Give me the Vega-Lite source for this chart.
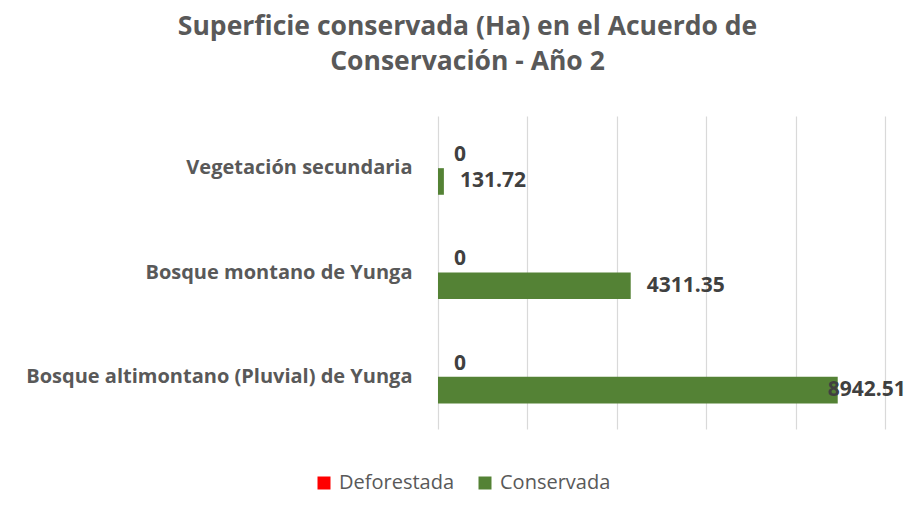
{
  "$schema": "https://vega.github.io/schema/vega-lite/v6.json",
  "autosize": "none",
  "width": 447,
  "height": 313,
  "padding": {"left": 438, "top": 116, "right": 23, "bottom": 85},
  "background": "white",
  "title": {
    "text": ["Superficie conservada (Ha) en el Acuerdo de", "Conservación - Año 2"],
    "font": "Open Sans",
    "fontSize": 26.5,
    "fontWeight": "bold",
    "color": "#595959",
    "lineHeight": 35,
    "anchor": "middle",
    "frame": "group",
    "dx": -194,
    "offset": 41
  },
  "data": {
    "values": [
      {"tipo": "Vegetación secundaria", "serie": "Deforestada", "valor": 0},
      {"tipo": "Vegetación secundaria", "serie": "Conservada", "valor": 131.72},
      {"tipo": "Bosque montano de Yunga", "serie": "Deforestada", "valor": 0},
      {"tipo": "Bosque montano de Yunga", "serie": "Conservada", "valor": 4311.35},
      {"tipo": "Bosque altimontano (Pluvial) de Yunga", "serie": "Deforestada", "valor": 0},
      {"tipo": "Bosque altimontano (Pluvial) de Yunga", "serie": "Conservada", "valor": 8942.51}
    ]
  },
  "encoding": {
    "y": {
      "field": "tipo",
      "type": "nominal",
      "sort": ["Vegetación secundaria", "Bosque montano de Yunga", "Bosque altimontano (Pluvial) de Yunga"],
      "scale": {"paddingInner": 0.49, "paddingOuter": 0.245},
      "axis": {
        "title": null,
        "domain": false,
        "ticks": false,
        "grid": false,
        "labelFont": "Open Sans",
        "labelFontSize": 20,
        "labelFontWeight": "bold",
        "labelColor": "#595959",
        "labelPadding": 26,
        "labelLimit": 500
      }
    },
    "yOffset": {
      "field": "serie",
      "type": "nominal",
      "sort": ["Deforestada", "Conservada"],
      "scale": {"paddingInner": 0, "paddingOuter": 0}
    },
    "x": {
      "field": "valor",
      "type": "quantitative",
      "scale": {"domain": [0, 10000], "nice": false},
      "axis": {
        "title": null,
        "values": [0, 2000, 4000, 6000, 8000, 10000],
        "labels": false,
        "ticks": false,
        "domain": false,
        "grid": true,
        "gridColor": "#d9d9d9",
        "gridWidth": 1.2
      }
    }
  },
  "layer": [
    {
      "mark": {"type": "bar"},
      "encoding": {
        "color": {
          "field": "serie",
          "type": "nominal",
          "sort": ["Deforestada", "Conservada"],
          "scale": {"domain": ["Deforestada", "Conservada"], "range": ["#ff0000", "#548235"]},
          "legend": {
            "title": null,
            "orient": "none",
            "legendX": -124,
            "legendY": 357,
            "direction": "horizontal",
            "symbolType": "square",
            "symbolSize": 169,
            "symbolStrokeWidth": 0,
            "labelFont": "Open Sans",
            "labelFontSize": 20,
            "labelColor": "#595959",
            "labelOffset": 5,
            "columnPadding": 20
          }
        }
      }
    },
    {
      "transform": [{"filter": "datum.valor < 8000"}],
      "mark": {"type": "text", "align": "left", "baseline": "middle", "dx": 16, "font": "Open Sans", "fontSize": 21, "fontWeight": "bold", "color": "#404040"},
      "encoding": {"text": {"field": "valor", "type": "quantitative", "format": ".2~f"}}
    },
    {
      "transform": [{"filter": "datum.valor >= 8000"}],
      "mark": {"type": "text", "align": "left", "baseline": "middle", "dx": -10, "font": "Open Sans", "fontSize": 21, "fontWeight": "bold", "color": "#404040"},
      "encoding": {"text": {"field": "valor", "type": "quantitative", "format": ".2~f"}}
    }
  ],
  "config": {"view": {"stroke": null}}
}
